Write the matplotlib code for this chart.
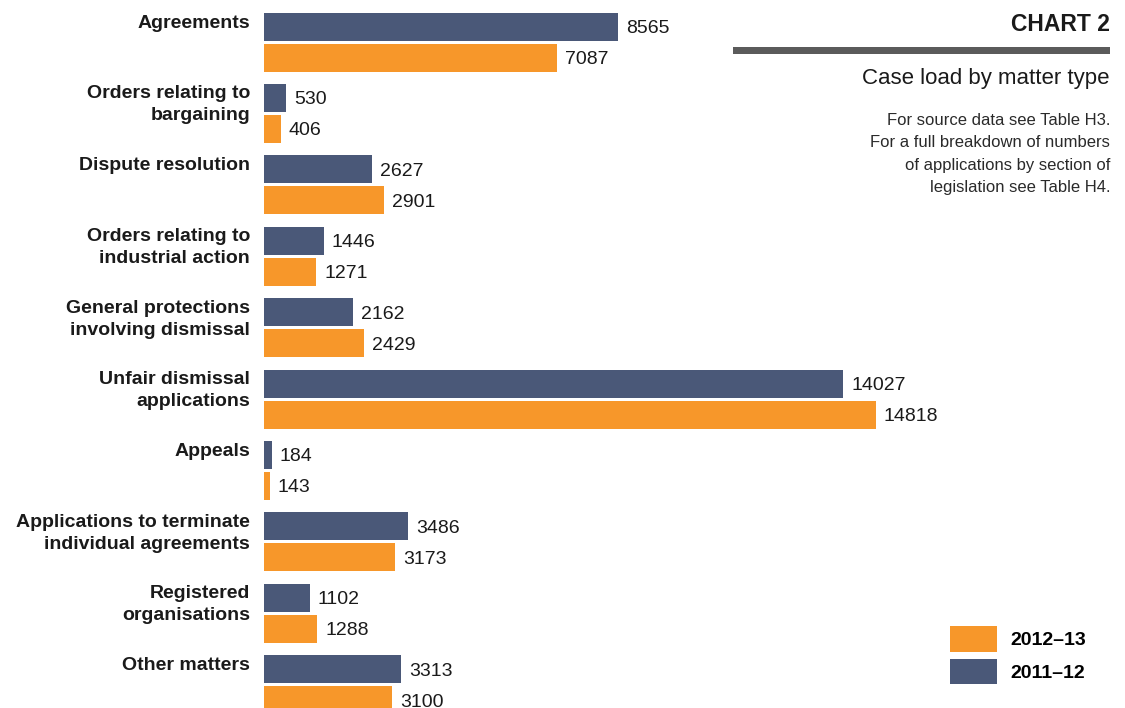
import matplotlib
matplotlib.use("Agg")
import matplotlib.pyplot as plt
from matplotlib.patches import Rectangle, Patch

# chart data, top to bottom
categories = [
    "Agreements",
    "Orders relating to\nbargaining",
    "Dispute resolution",
    "Orders relating to\nindustrial action",
    "General protections\ninvolving dismissal",
    "Unfair dismissal\napplications",
    "Appeals",
    "Applications to terminate\nindividual agreements",
    "Registered\norganisations",
    "Other matters",
]
cases_2011_12 = [8565, 530, 2627, 1446, 2162, 14027, 184, 3486, 1102, 3313]
cases_2012_13 = [7087, 406, 2901, 1271, 2429, 14818, 143, 3173, 1288, 3100]
series_labels = ["2012\u201313", "2011\u201312"]

notes = [
    "For source data see Table H3.",
    "For a full breakdown of numbers",
    "of applications by section of",
    "legislation see Table H4.",
]

DARK = "#4a5878"
ORANGE = "#f7972a"
TXT = "#1a1a1a"

plt.rcParams["font.family"] = ["Liberation Sans", "DejaVu Sans"]

W, H = 1125, 708
fig = plt.figure(figsize=(W / 100, H / 100), dpi=100)

# axes: bars start at x=264px, full figure height
x0 = 264
ax = fig.add_axes([x0 / W, 0, 1 - x0 / W, 1])
pitch = 71.4            # pixels per category group
scale = 0.0413          # pixels per case
ax.set_ylim(H / pitch, 0)
ax.set_xlim(0, (W - x0) / scale)
ax.axis("off")

top0 = 12.5 / pitch
bh = 28 / pitch
gap = 3 / pitch
line_px = 21.5          # baseline-to-baseline distance of category labels

for i, (cat, a, b) in enumerate(zip(categories, cases_2011_12, cases_2012_13)):
    y1 = i + top0 + bh / 2
    y2 = y1 + bh + gap
    ax.barh(y1, a, height=bh, color=DARK, linewidth=0)
    ax.barh(y2, b, height=bh, color=ORANGE, linewidth=0)
    for v, y in ((a, y1), (b, y2)):
        ax.annotate(str(v), xy=(v, y), xytext=(8, 0), textcoords="offset pixels",
                    ha="left", va="center_baseline", fontsize=14, color=TXT)
    # va="baseline" anchors the last line of a multi-line label
    nlines = cat.count("\n") + 1
    ax.annotate(cat, xy=(0, i + top0),
                xytext=(-14, -15 - line_px * (nlines - 1)), textcoords="offset pixels",
                ha="right", va="baseline", fontsize=14, fontweight="bold",
                color=TXT, linespacing=1.38, multialignment="right")

# header block on the right
def fx(p):
    return p / W

def fy(p):
    return 1 - p / H

fig.text(fx(1110), fy(31), "CHART 2", ha="right", va="baseline",
         fontsize=16.5, fontweight="bold", color=TXT)
fig.patches.append(Rectangle((fx(733), fy(54)), fx(1110) - fx(733), (54 - 46.5) / H,
                             transform=fig.transFigure, color="#5b5b5b", linewidth=0))
fig.text(fx(1110), fy(84), "Case load by matter type", ha="right", va="baseline",
         fontsize=16, color=TXT)
for k, line in enumerate(notes):
    fig.text(fx(1110), fy(125 + k * 22.3), line, ha="right", va="baseline",
             fontsize=12, color="#2a2a2a")

# legend
handles = [Patch(color=ORANGE, linewidth=0), Patch(color=DARK, linewidth=0)]
fig.legend(handles, series_labels, loc="upper left",
           bbox_to_anchor=(fx(950), fy(626)), frameon=False,
           prop={"size": 14, "weight": "bold"},
           handlelength=2.42, handleheight=1.66, handletextpad=0.67,
           labelspacing=0.35, borderpad=0, borderaxespad=0)

fig.savefig("out.png", dpi=100)
